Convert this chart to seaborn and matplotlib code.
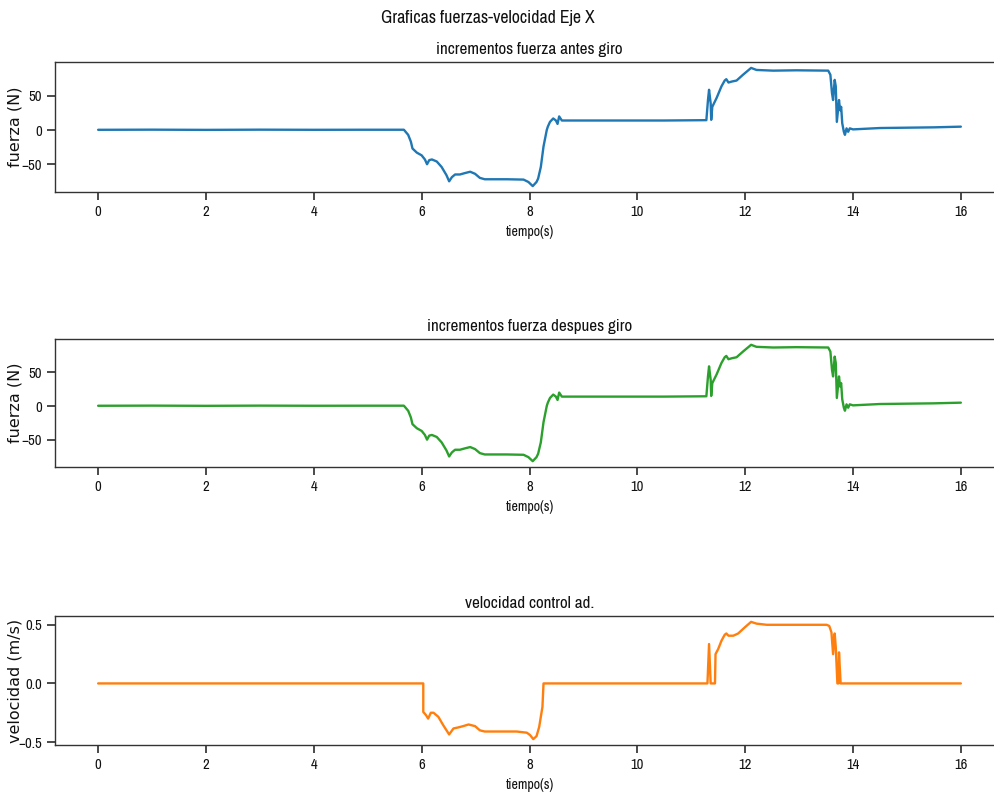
import matplotlib
matplotlib.use("Agg")
import matplotlib.pyplot as plt
from matplotlib import font_manager as fm
import seaborn as sns
import pandas as pd

# Force increments along X (N) over time (s)
tiempo_fuerza = [0.0, 1.0, 2.0, 3.0, 4.0, 5.0, 5.67, 5.75, 5.80, 5.83, 5.91, 6.00, 6.06, 6.10,
                 6.14, 6.19, 6.28, 6.37, 6.46, 6.51, 6.56, 6.62, 6.71, 6.80, 6.90, 6.99,
                 7.08, 7.17, 7.27, 7.58, 7.89, 7.98, 8.06, 8.13, 8.16, 8.21, 8.26, 8.29,
                 8.32, 8.34, 8.38, 8.44, 8.49, 8.52, 8.55, 8.60, 9.5, 10.5, 11.28, 11.31,
                 11.33, 11.36, 11.37, 11.39, 11.47, 11.56, 11.62, 11.65, 11.69, 11.75,
                 11.84, 11.96, 12.11, 12.21, 12.52, 12.95, 13.54, 13.58, 13.61, 13.63,
                 13.66, 13.68, 13.70, 13.74, 13.76, 13.78, 13.80, 13.83, 13.85, 13.88,
                 13.91, 13.94, 14.0, 14.5, 15.0, 15.5, 16.0]
fuerza_antes = [0.4, 0.6, 0.3, 0.6, 0.4, 0.5, 0.5, -7, -17, -27, -33, -37, -43, -50,
                -44, -43, -46, -54, -66, -75, -69, -65, -65, -63, -61, -64,
                -70, -72, -72, -72, -72.5, -76, -82, -76, -71, -54, -24, -12,
                0, 5, 12, 17, 14, 9, 20, 14, 14, 14, 14.5, 44,
                59, 39, 15, 34, 47, 64, 72.5, 74.5, 69.6, 71,
                72.5, 81, 91, 88, 87, 87.5, 87, 81, 54, 44,
                73.5, 64, 12, 44, 29, 34, 10, -2.5, -7, 2.5,
                -2.5, 2.5, 1, 3, 3.5, 4, 5]
fuerza_despues = list(fuerza_antes)

# Admittance control velocity (m/s)
tiempo_vel = [0.0, 6.03, 6.03, 6.08, 6.12, 6.17, 6.22, 6.31, 6.40, 6.51, 6.59, 6.68, 6.77,
              6.87, 6.99, 7.08, 7.17, 7.45, 7.76, 7.95, 8.01, 8.07, 8.13, 8.18, 8.21,
              8.24, 8.26, 11.30, 11.33, 11.36, 11.44, 11.45, 11.50, 11.56, 11.62, 11.65,
              11.69, 11.78, 11.87, 11.99, 12.11, 12.21, 12.40, 12.83, 13.51, 13.56,
              13.60, 13.63, 13.66, 13.68, 13.71, 13.73, 13.74, 13.77, 16.0]
velocidad = [0.0, 0.0, -0.243, -0.27, -0.30, -0.25, -0.25, -0.285, -0.356, -0.435, -0.384,
             -0.375, -0.364, -0.35, -0.364, -0.40, -0.41, -0.41, -0.41, -0.42, -0.44,
             -0.475, -0.45, -0.37, -0.285, -0.2, 0.0, 0.0, 0.336, 0.0, 0.0, 0.25, 0.294,
             0.364, 0.415, 0.426, 0.407, 0.407, 0.426, 0.477, 0.525, 0.51, 0.50, 0.50,
             0.50, 0.49, 0.435, 0.25, 0.426, 0.31, 0.0, 0.0, 0.265, 0.0, 0.0]

titulo = "Graficas fuerzas-velocidad Eje X"
titulos = ["incrementos fuerza antes giro", "incrementos fuerza despues giro",
           "velocidad control ad."]
etiquetas_y = ["fuerza (N)", "fuerza (N)", "velocidad (m/s)"]
colores = ["#1f77b4", "#2ca02c", "#ff7f0e"]

sns.set_theme(style="ticks", rc={"axes.edgecolor": "#333333",
                                 "xtick.color": "#333333", "ytick.color": "#333333"})

# Pick a narrow sans-serif face for the horizontal texts
available = {f.name for f in fm.fontManager.ttflist}
narrow_family = "DejaVu Sans"
for cand in ["Liberation Sans Narrow", "Archivo Narrow", "PT Sans Narrow",
             "Roboto Condensed", "Fira Sans Condensed", "Encode Sans Condensed",
             "Asap Condensed", "Open Sans Condensed"]:
    if cand in available:
        narrow_family = cand
        break
plt.rcParams["font.family"] = [narrow_family, "DejaVu Sans"]

fig = plt.figure(figsize=(9.95, 8.0), dpi=100)
H = 800.0
W = 995.0
AX_L, AX_R = 55, 1004
rects = [(62, 192), (339, 467), (616, 745)]

frames = [
    pd.DataFrame({"t": tiempo_fuerza, "y": fuerza_antes}),
    pd.DataFrame({"t": tiempo_fuerza, "y": fuerza_despues}),
    pd.DataFrame({"t": tiempo_vel, "y": velocidad}),
]

for i, (top, bot) in enumerate(rects):
    ax = fig.add_axes([AX_L / W, 1 - bot / H, (AX_R - AX_L) / W, (bot - top) / H])
    sns.lineplot(data=frames[i], x="t", y="y", ax=ax, color=colores[i],
                 estimator=None, sort=False, linewidth=1.7)
    ax.set_title(titulos[i], fontsize=12.3, color="#111111")
    ax.set_xlabel("tiempo(s)", fontsize=10, color="#111111")
    ax.set_ylabel(etiquetas_y[i], fontsize=11.5, family="DejaVu Sans", color="#111111")
    ax.yaxis.set_label_coords((22 - AX_L) / (AX_R - AX_L), 0.5)
    ax.set_xticks([0, 2, 4, 6, 8, 10, 12, 14, 16])
    ax.tick_params(labelsize=10.5, labelcolor="#111111")
    for sp in ax.spines.values():
        sp.set_visible(True)
        sp.set_linewidth(1.0)
    if i < 2:
        ax.set_yticks([-50, 0, 50])
    else:
        ax.set_yticks([-0.5, 0.0, 0.5])

fig.suptitle(titulo, x=0.49, y=1 - 18 / H, va="center", fontsize=12.8, color="#111111")
fig.savefig("out.png", dpi=100)
